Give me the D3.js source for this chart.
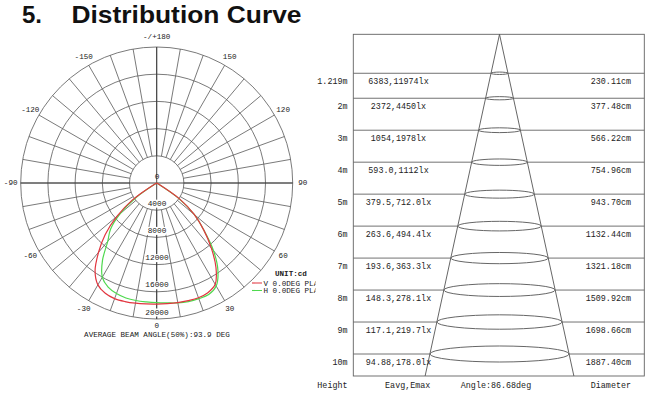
<!DOCTYPE html>
<html><head><meta charset="utf-8">
<script src="https://cdn.jsdelivr.net/npm/d3@7"></script>
<style>
html,body{margin:0;padding:0;background:#fff;}
svg{display:block;}
</style></head>
<body>
<svg id="chart" width="650" height="393"></svg>
<script>
// ---------- DATA ----------
const title = "Distribution Curve";
const angles = [-90,-85,-80,-75,-70,-65,-60,-55,-50,-45,-40,-35,-30,-25,-20,-15,-10,-5,0,5,10,15,20,25,30,35,40,45,50,55,60,65,70,75,80,85,90];
const vPlane = [0,0,0,0,0,0,300,4400,7600,10700,13300,15800,17300,17900,18100,18050,17950,17850,17800,17800,17850,17900,17950,17800,17200,15200,12500,9800,7200,4200,300,0,0,0,0,0,0];
const hPlane = [0,0,0,0,0,0,0,3600,7000,9600,11200,13900,16000,16900,17300,17500,17550,17550,17600,17700,17900,18050,18100,18100,17500,15700,13000,9800,7200,4000,0,0,0,0,0,0,0];
const ringValues = [4000,8000,12000,16000,20000];
const ringLabels = ["4000","8000","12000","16000","20000"];
const angleTicks = [180,150,120,90,60,30,0,-30,-60,-90,-120,-150];
const angleTickLabels = ["-/+180","150","120","90","60","30","0","-30","-60","-90","-120","-150"];
const legendNames = ["V 0.0DEG PLANE","H 0.0DEG PLANE"];
const beamText = "AVERAGE BEAM ANGLE(50%):93.9 DEG";

const heights = [1.219,2,3,4,5,6,7,8,9,10];
const heightLabels = ["1.219m","2m","3m","4m","5m","6m","7m","8m","9m","10m"];
const illumLabels = ["6383,11974lx","2372,4450lx","1054,1978lx","593.0,1112lx","379.5,712.0lx","263.6,494.4lx","193.6,363.3lx","148.3,278.1lx","117.1,219.7lx","94.88,178.0lx"];
const diameters = [230.11,377.48,566.22,754.96,943.70,1132.44,1321.18,1509.92,1698.66,1887.40];
const footerLabels = ["Height","Eavg,Emax","Angle:86.68deg","Diameter"];

// ---------- SETUP ----------
const svg = d3.select("#chart");
const mono = "'Liberation Mono','DejaVu Sans Mono',monospace";
const red = "#e2353f", green = "#4fd94f", grid = "#626262";

// Title
svg.append("text").attr("x",22).attr("y",23).attr("font-family","'Liberation Sans',Arial,sans-serif")
  .attr("font-weight","bold").attr("font-size",24).attr("fill","#111").text("5.");
svg.append("text").attr("x",71.5).attr("y",23).attr("font-family","'Liberation Sans',Arial,sans-serif")
  .attr("font-weight","bold").attr("font-size",24).attr("fill","#111")
  .attr("textLength",230).attr("lengthAdjust","spacingAndGlyphs").text(title);

// ---------- POLAR ----------
const cx = 156.7, cy = 183, R = 136;
const defs = svg.append("defs");
defs.append("clipPath").attr("id","leftclip").append("rect").attr("x",0).attr("y",28).attr("width",315.5).attr("height",320);
const P = svg.append("g").attr("clip-path","url(#leftclip)");
const g = P.append("g").attr("transform",`translate(${cx},${cy})`);
const r = d3.scaleLinear().domain([0,20000]).range([0,R]);
const rad = d => d*Math.PI/180;
const px = (deg, rr) => rr*Math.sin(rad(deg));
const py = (deg, rr) => rr*Math.cos(rad(deg));

// rings
g.selectAll("circle.ring").data(ringValues).join("circle")
  .attr("r", d=>r(d)).attr("fill","none").attr("stroke",grid).attr("stroke-width",0.85);
// spokes every 10 deg
const spokes = d3.range(-170,190,10);
g.selectAll("line.spoke").data(spokes).join("line")
  .attr("x1",d=>px(d,r(ringValues[0]))).attr("y1",d=>py(d,r(ringValues[0])))
  .attr("x2",d=>px(d,R)).attr("y2",d=>py(d,R))
  .attr("stroke",grid).attr("stroke-width",0.85);
// main axes
g.append("line").attr("x1",0).attr("y1",-R).attr("x2",0).attr("y2",R).attr("stroke","#333").attr("stroke-width",0.9);
g.append("line").attr("x1",-R).attr("y1",0).attr("x2",R).attr("y2",0).attr("stroke","#333").attr("stroke-width",0.9);

// angle labels
g.selectAll("text.ang").data(angleTicks).join("text")
  .attr("x",d=>px(d,146)).attr("y",d=>py(d, d===0 ? 143 : 146))
  .attr("text-anchor","middle").attr("dominant-baseline","central")
  .attr("font-family",mono).attr("font-size",7.6).attr("fill","#222")
  .text((d,i)=>angleTickLabels[i]);

// curves
const line = d3.lineRadial()
  .angle(d=>Math.PI - rad(d[0])).radius(d=>r(d[1]))
  .curve(d3.curveCatmullRom.alpha(0.5));
g.append("path").datum(angles.map((a,i)=>[a,hPlane[i]]))
  .attr("d",line).attr("fill","none").attr("stroke",green).attr("stroke-width",1.2);
g.append("path").datum(angles.map((a,i)=>[a,vPlane[i]]))
  .attr("d",line).attr("fill","none").attr("stroke",red).attr("stroke-width",1.2);

// value labels with white background
const vals = [0].concat(ringValues);
const vlabels = ["0"].concat(ringLabels);
vals.forEach((v,i)=>{
  const yy = r(v) - 6.5;
  const t = vlabels[i];
  const w = t.length*4.6;
  if (v>0) g.append("rect").attr("x",-w/2-0.5).attr("y",yy-4).attr("width",w+1).attr("height",8).attr("fill","#fff");
  g.append("text").attr("x",0.3).attr("y",yy).attr("text-anchor","middle").attr("dominant-baseline","central")
    .attr("font-family",mono).attr("font-size",7.8).attr("fill","#222").text(t);
});

// legend
P.append("text").attr("x",275).attr("y",275.5).attr("font-family",mono).attr("font-weight","bold")
  .attr("font-size",7.6).attr("fill","#222").text("UNIT:cd");
[red,green].forEach((c,i)=>{
  const yy = 283 + i*7.5;
  P.append("line").attr("x1",252).attr("x2",262).attr("y1",yy).attr("y2",yy).attr("stroke",c).attr("stroke-width",1.1);
  P.append("text").attr("x",263.5).attr("y",yy+2.6).attr("font-family",mono).attr("font-size",7.6)
    .attr("fill","#222").text(legendNames[i]);
});
// beam angle text
svg.append("text").attr("x",157).attr("y",337).attr("text-anchor","middle").attr("font-family",mono)
  .attr("font-size",7.6).attr("fill","#222").text(beamText);

// ---------- CONE TABLE ----------
const boxL = 353.3, boxR = 644.3, boxT = 34.3, boxB = 376, apexX = 499.5;
const y = d3.scaleLinear().domain([0,10]).range([boxT,354]);
const rc = d3.scaleLinear().domain([0,943.7]).range([0,69.6]); // radius cm -> px
const T = svg.append("g");
T.append("rect").attr("x",boxL).attr("y",boxT).attr("width",boxR-boxL).attr("height",boxB-boxT)
  .attr("fill","none").attr("stroke",grid).attr("stroke-width",0.9);
const last = heights.length-1;
const hBottom = y.invert(boxB);
const halfBottom = rc(diameters[last]/2 * hBottom/heights[last]);
[-1,1].forEach(s=>{
  T.append("line").attr("x1",apexX).attr("y1",boxT).attr("x2",apexX+s*halfBottom).attr("y2",boxB)
   .attr("stroke","#555").attr("stroke-width",0.9);
});
heights.forEach((h,i)=>{
  const yy = y(h), hw = rc(diameters[i]/2);
  T.append("line").attr("x1",boxL).attr("x2",apexX-hw).attr("y1",yy).attr("y2",yy).attr("stroke",grid).attr("stroke-width",0.9);
  T.append("line").attr("x1",apexX+hw).attr("x2",boxR).attr("y1",yy).attr("y2",yy).attr("stroke",grid).attr("stroke-width",0.9);
  T.append("ellipse").attr("cx",apexX).attr("cy",yy).attr("rx",hw).attr("ry",Math.max(1.2,hw*0.115))
    .attr("fill","none").attr("stroke","#555").attr("stroke-width",0.9);
  const ty = yy + 11;
  T.append("text").attr("x",347.5).attr("y",ty).attr("text-anchor","end").attr("font-family",mono)
    .attr("font-size",8.4).attr("fill","#222").text(heightLabels[i]);
  T.append("text").attr("x",398.5).attr("y",ty).attr("text-anchor","middle").attr("font-family",mono)
    .attr("font-size",8.4).attr("fill","#222").text(illumLabels[i]);
  T.append("text").attr("x",631).attr("y",ty).attr("text-anchor","end").attr("font-family",mono)
    .attr("font-size",8.4).attr("fill","#222").text(diameters[i].toFixed(2)+"cm");
});
// footer
const fy = 388;
T.append("text").attr("x",347.5).attr("y",fy).attr("text-anchor","end").attr("font-family",mono).attr("font-size",8.4).attr("fill","#222").text(footerLabels[0]);
T.append("text").attr("x",407.7).attr("y",fy).attr("text-anchor","middle").attr("font-family",mono).attr("font-size",8.4).attr("fill","#222").text(footerLabels[1]);
T.append("text").attr("x",496).attr("y",fy).attr("text-anchor","middle").attr("font-family",mono).attr("font-size",8.4).attr("fill","#222").text(footerLabels[2]);
T.append("text").attr("x",631).attr("y",fy).attr("text-anchor","end").attr("font-family",mono).attr("font-size",8.4).attr("fill","#222").text(footerLabels[3]);
</script>
</body></html>
